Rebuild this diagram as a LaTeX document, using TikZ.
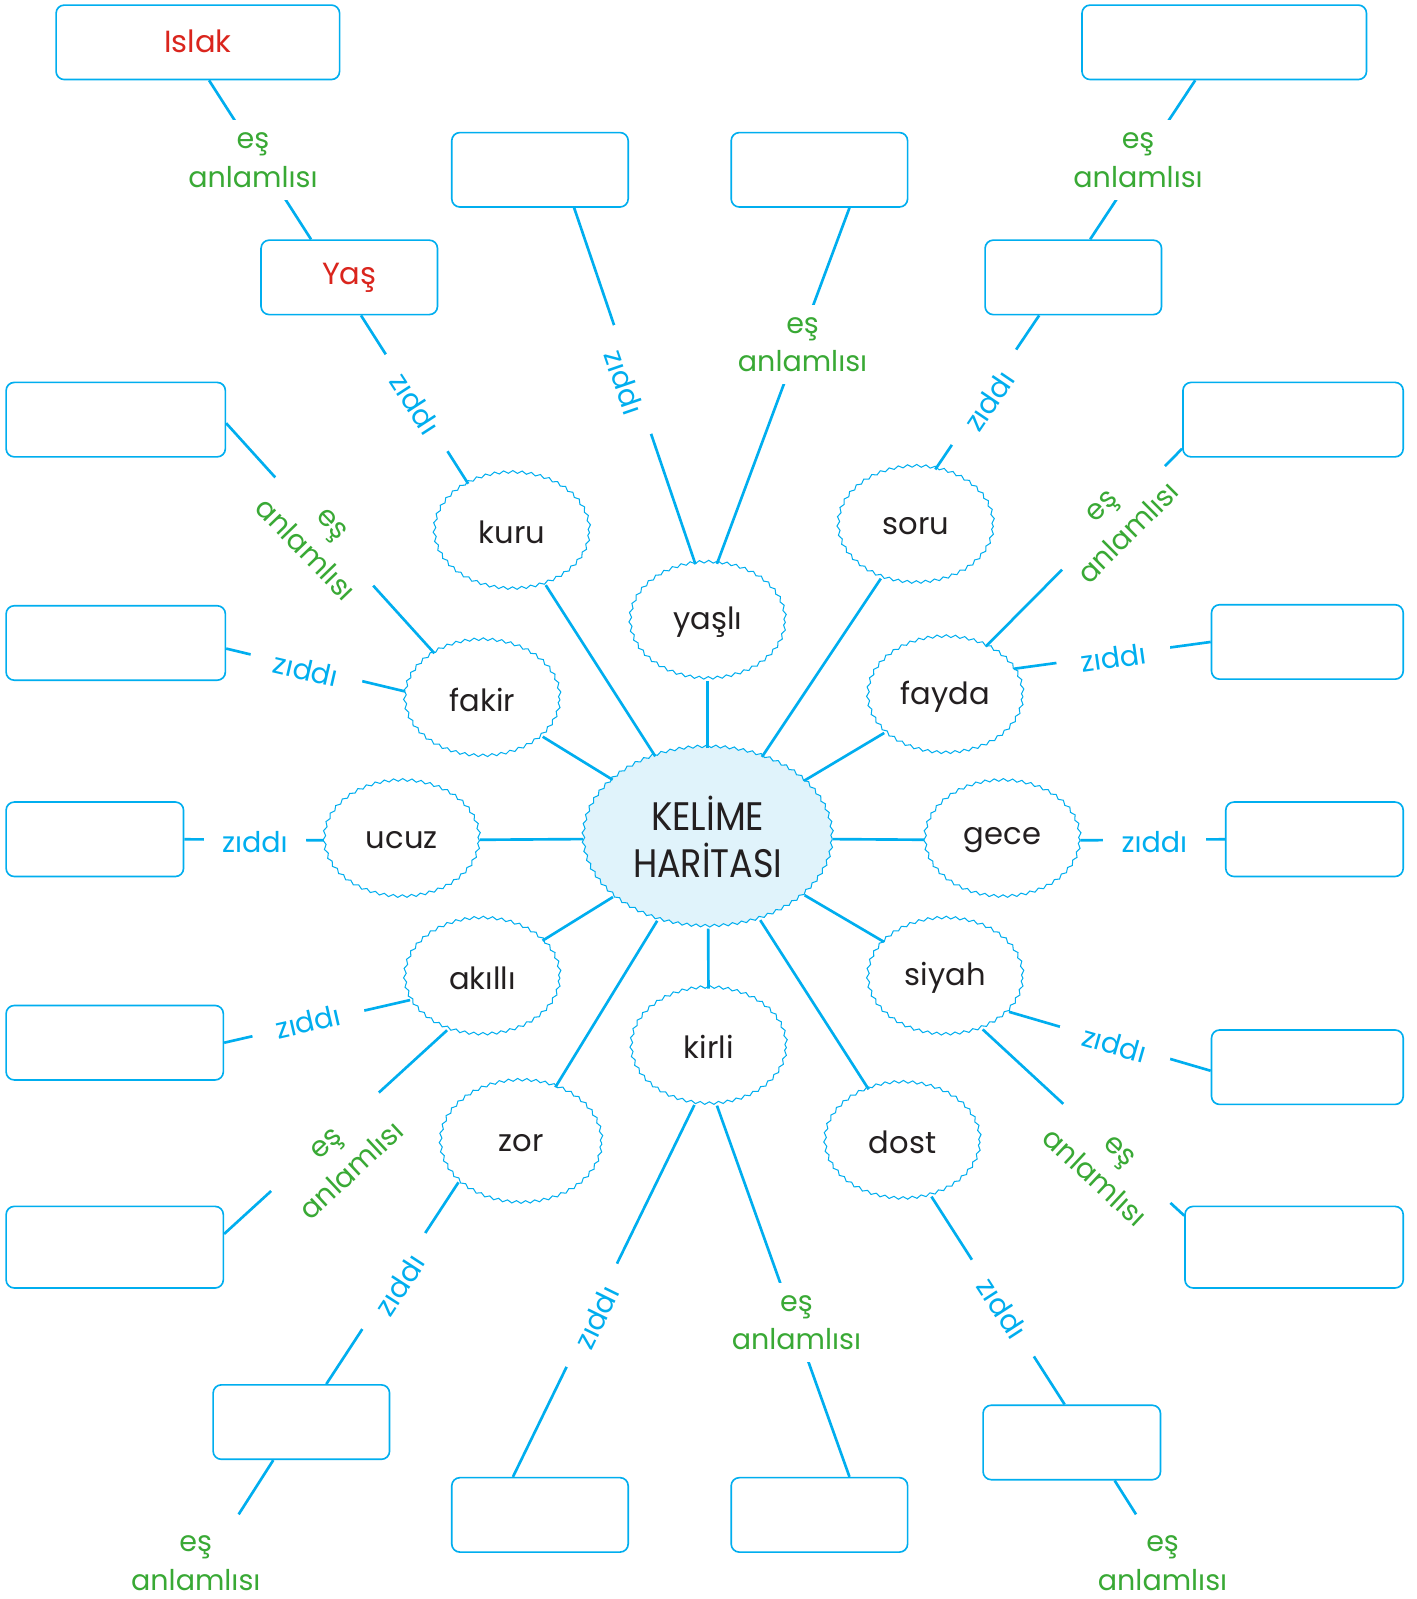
\documentclass[tikz,border=0pt]{standalone}
\usepackage{fontspec}
\setmainfont{Poppins}
\usetikzlibrary{shapes.geometric,decorations.pathmorphing}
\definecolor{cy}{RGB}{0,174,239}
\definecolor{gr}{RGB}{57,169,53}
\definecolor{rd}{RGB}{218,37,29}
\definecolor{tx}{RGB}{35,31,32}
\definecolor{cfill}{RGB}{224,243,251}
\begin{document}
\begin{tikzpicture}[x=1pt,y=-1pt,
 wavy/.style={ellipse, draw=cy, line width=1pt, fill=white, decorate,
   decoration={snake,segment length=9pt,amplitude=1.3pt},
   minimum width=152pt, minimum height=114pt, inner sep=0pt, text=tx,
   font=\fontsize{30}{36}\selectfont},
 hub/.style={wavy, fill=cfill, minimum width=244pt, minimum height=176pt,
   font=\fontsize{39}{46}\selectfont, align=center},
 box/.style={draw=cy, line width=1.6pt, rounded corners=8pt, minimum height=73pt,
   inner sep=0pt, fill=white, text=rd, font=\fontsize{30}{36}\selectfont},
 conn/.style={draw=cy, line width=2.6pt},
 zid/.style={fill=white, text=cy, inner xsep=24pt, inner ysep=3pt,
   font=\fontsize{28}{34}\selectfont},
 es/.style={fill=white, text=gr, inner xsep=8pt, inner ysep=12pt, align=center,
   font=\fontsize{28}{38}\selectfont},
]
\useasboundingbox[fill=white] (0,0) rectangle (1389,1568);

% hub and words
\node[hub] (C) at (694,822) {\raisebox{3pt}{\scalebox{0.9}[1]{KELİME}}\\\raisebox{3pt}{\scalebox{0.88}[1]{HARİTASI}}};
\node[wavy] (kuru) at (502,522) {kuru};
\node[wavy] (yasli) at (694,610) {yaşlı};
\node[wavy] (soru) at (898,516) {soru};
\node[wavy] (fakir) at (473,686) {fakir};
\node[wavy] (fayda) at (927,683) {fayda};
\node[wavy] (ucuz) at (394,824) {ucuz};
\node[wavy] (gece) at (983,824) {gece};
\node[wavy] (akilli) at (473,959) {akıllı};
\node[wavy] (siyah) at (927,959) {siyah};
\node[wavy] (kirli) at (695,1027) {kirli};
\node[wavy, minimum width=158pt, minimum height=120pt] (zor) at (511,1121) {zor};
\node[wavy] (dost) at (885,1120) {dost};

% boxes
\node[box, minimum width=278pt] (islak) at (194,41.5) {\raisebox{2pt}{Islak}};
\node[box, minimum width=173pt] (yas) at (342.5,272) {Yaş};
\node[box, minimum width=173pt] (tcl) at (529.5,166.5) {};
\node[box, minimum width=173pt] (tcr) at (803.5,166.5) {};
\node[box, minimum width=279pt] (tr) at (1200.5,41.5) {};
\node[box, minimum width=173pt] (rt) at (1052.5,272) {};
\node[box, minimum width=215pt] (L1) at (113.5,411.5) {};
\node[box, minimum width=215pt] (L2) at (113.5,630.5) {};
\node[box, minimum width=174pt] (L3) at (93,823) {};
\node[box, minimum width=213pt] (L4) at (112.5,1022.5) {};
\node[box, minimum width=213pt, minimum height=80pt] (L5) at (112.5,1223) {};
\node[box, minimum width=216pt] (R1) at (1268,411.5) {};
\node[box, minimum width=188pt] (R2) at (1282,629.5) {};
\node[box, minimum width=174pt] (R3) at (1289,823) {};
\node[box, minimum width=188pt] (R4) at (1282,1046.5) {};
\node[box, minimum width=214pt, minimum height=80pt] (R5) at (1269,1223) {};
\node[box, minimum width=173pt] (B1) at (295.5,1394.5) {};
\node[box, minimum width=173pt] (B2) at (529.5,1485.5) {};
\node[box, minimum width=173pt] (B3) at (803.5,1485.5) {};
\node[box, minimum width=174pt] (B4) at (1051,1414.5) {};

% spokes
\foreach \n in {kuru,yasli,soru,fakir,fayda,ucuz,gece,akilli,siyah,kirli,zor,dost}
  \draw[conn] (C) -- (\n);

% outer connectors
\draw[conn] ([xshift=11pt]islak.south) -- ([xshift=-37.5pt]yas.north);
\draw[conn] ([xshift=11.5pt]yas.south) -- (kuru.132);
\draw[conn] ([xshift=33.5pt]tcl.south) -- (yasli.102);
\draw[conn] ([xshift=29.5pt]tcr.south) -- (yasli.81);
\draw[conn] ([xshift=-28.5pt]tr.south) -- ([xshift=16.5pt]rt.north);
\draw[conn] ([xshift=-33.5pt]rt.south) -- (soru.71);
\draw[conn] ([yshift=-3.5pt]L1.east) -- (fakir.136);
\draw[conn] ([yshift=-5.5pt]L2.east) -- (fakir.174);
\draw[conn] (L3.east) -- (ucuz.west);
\draw[conn] (gece.east) -- (R3.west);
\draw[conn] ([yshift=-28.5pt]R1.west) -- (fayda.51);
\draw[conn] (R2.west) -- (fayda.22);
\draw[conn] (L4.east) -- (akilli.197);
\draw[conn] (akilli.236) -- ([yshift=13pt]L5.east);
\draw[conn] (siyah.332) -- ([yshift=-3.5pt]R4.west);
\draw[conn] (siyah.306) -- ([yshift=31pt]R5.west);
\draw[conn] (zor.212) -- ([xshift=24.5pt]B1.north);
\draw[conn] (kirli.256) -- ([xshift=-26.5pt]B2.north);
\draw[conn] (kirli.278) -- ([xshift=29.5pt]B3.north);
\draw[conn] (dost.298) -- ([xshift=-7pt]B4.north);
\coordinate (e1) at (234,1485);
\coordinate (e2) at (1114,1485);
\draw[conn] ([xshift=-27.5pt]B1.south) -- (e1);
\draw[conn] ([xshift=42pt]B4.south) -- (e2);

% labels
\node[es] (l1) at (248,157) {eş\\anlamlısı};
\node[zid, rotate=-57] (l2) at (407,396) {zıddı};
\node[zid, rotate=-71] (l3) at (612,375) {zıddı};
\node[es] (l4) at (787,338) {eş\\anlamlısı};
\node[es] (l5) at (1116,157) {eş\\anlamlısı};
\node[zid, rotate=56] (l6) at (970,393) {zıddı};
\node[es, rotate=-46] (l7) at (312,527) {eş\\anlamlısı};
\node[zid, rotate=-13] (l8) at (300,657) {zıddı};
\node[es, rotate=45] (l9) at (1094,510) {eş\\anlamlısı};
\node[zid, rotate=8] (l10) at (1092,645) {zıddı};
\node[zid, inner xsep=18pt] (l11) at (250,826) {zıddı};
\node[zid, inner xsep=18pt] (l12) at (1132,826) {zıddı};
\node[zid, rotate=13] (l13) at (302,1002) {zıddı};
\node[es, rotate=43] (l14) at (333,1135) {eş\\anlamlısı};
\node[zid, rotate=-16] (l15) at (1093,1024) {zıddı};
\node[es, rotate=-43] (l16) at (1085,1142) {eş\\anlamlısı};
\node[zid, rotate=57] (l17) at (392,1260) {zıddı};
\node[es] (l18) at (192,1533) {eş\\anlamlısı};
\node[zid, rotate=64] (l19) at (585,1292) {zıddı};
\node[es] (l20) at (781,1297) {eş\\anlamlısı};
\node[zid, rotate=-57] (l21) at (983,1283) {zıddı};
\node[es] (l22) at (1140,1533) {eş\\anlamlısı};
\end{tikzpicture}
\end{document}
